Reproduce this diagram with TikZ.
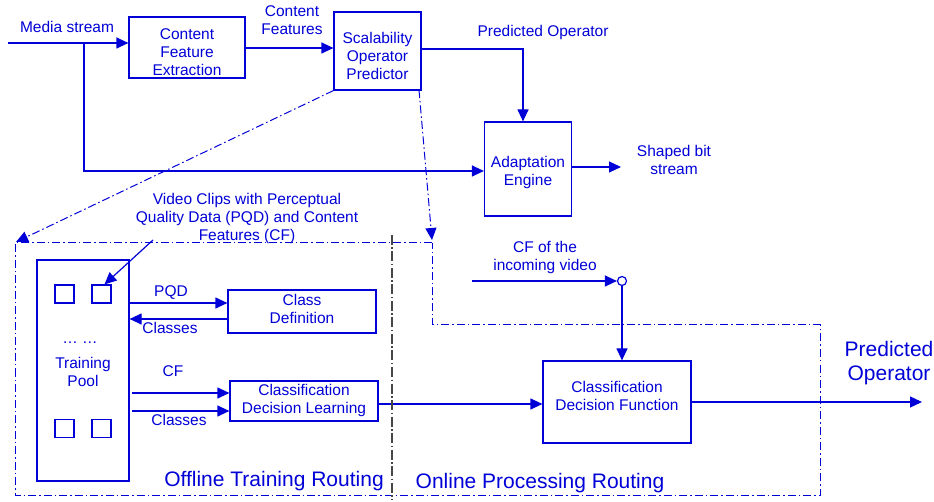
\documentclass[tikz,border=0pt]{standalone}
\usepackage{fontspec}
\setmainfont{Liberation Sans}
\usetikzlibrary{arrows.meta}
\definecolor{lb}{RGB}{0,0,215}
\definecolor{sepgray}{RGB}{70,70,70}
\begin{document}
\begin{tikzpicture}[x=1pt,y=-1pt,
  every node/.style={text=lb, font=\fontsize{15.5}{18}\selectfont, inner sep=0pt},
  box/.style={draw=lb, line width=1.2pt},
  conn/.style={draw=lb, line width=1.2pt},
  arr/.style={conn, -{Triangle[length=12pt,width=11pt]}},
  dd/.style={draw=lb, line width=1pt, dash pattern=on 8pt off 3pt on 1.5pt off 3pt},
  lbl/.style={align=center},
  big/.style={font=\fontsize{21}{24}\selectfont}
]
\useasboundingbox (0,0) rectangle (934,502);

% boxes
\node[box, minimum width=116pt, minimum height=61pt] (cfe) at (187,47.5) {};
\node[box, minimum width=87pt, minimum height=78pt] (sop) at (377.5,51) {};
\node[box, minimum width=87pt, minimum height=94pt] (ae) at (528,169) {};
\node[box, minimum width=92pt, minimum height=221pt] (pool) at (83,370.5) {};
\node[box, minimum width=148pt, minimum height=43pt] (cd) at (302,311.5) {};
\node[box, minimum width=148pt, minimum height=40pt] (cdl) at (304,401) {};
\node[box, minimum width=148pt, minimum height=82pt] (cdf) at (617,402) {};
\node[box, minimum width=19pt, minimum height=18pt] (sq1) at (64.5,294) {};
\node[box, minimum width=19pt, minimum height=18pt] (sq2) at (101.5,294) {};
\node[box, minimum width=19pt, minimum height=18pt] (sq3) at (64.5,428.5) {};
\node[box, minimum width=19pt, minimum height=18pt] (sq4) at (101.5,428.5) {};
\node[draw=lb, line width=1.2pt, circle, minimum size=9pt, fill=white] (junc) at (622,281) {};

% box texts
\node[lbl] (tcfe) at (187,52) {Content\\Feature\\Extraction};
\node[lbl] (tsop) at (377.5,56) {Scalability\\Operator\\Predictor};
\node[lbl] (tae) at (528,172) {Adaptation\\Engine};
\node[lbl] (tpool) at (83,371.5) {Training\\Pool};
\node[lbl] (tdots) at (80,343) {\dots\ \dots};
\node[lbl] (tcd) at (302,309) {Class\\Definition};
\node[lbl] (tcdl) at (304,400) {Classification\\Decision Learning};
\node[lbl] (tcdf) at (617,395.5) {Classification\\Decision Function};

% labels
\node[lbl] (lms) at (67,27) {Media stream};
\node[lbl] (lcf) at (292,20) {Content\\Features};
\node[lbl] (lpo) at (543,32) {Predicted Operator};
\node[lbl] (lsb) at (674,160) {Shaped bit\\stream};
\node[lbl] (lvc) at (247,218) {Video Clips with Perceptual\\Quality Data (PQD) and Content\\Features (CF)};
\node[lbl] (lpqd) at (171,293) {PQD};
\node[lbl] (lcl1) at (170,328) {Classes};
\node[lbl] (lcf2) at (173,371) {CF};
\node[lbl] (lcl2) at (179,420) {Classes};
\node[lbl] (linc) at (545,257) {CF of the\\incoming video};
\node[lbl, big] (loff) at (274,481) {Offline Training Routing};
\node[lbl, big] (lon) at (540,483) {Online Processing Routing};
\node[lbl, big] (lpo2) at (889,363) {Predicted\\Operator};

% coordinates
\coordinate (ms0) at (8,43);
\coordinate (br) at (84,43);
\coordinate (po) at (523,49);
\coordinate (sb) at (621,167);
\coordinate (offtip) at (16,242);
\coordinate (ontip) at (432,240);
\coordinate (vcs) at (153,240);
\coordinate (inc0) at (472,281);
\coordinate (out) at (922,402);

% connectors
\draw[arr] (ms0) -- (ms0 -| cfe.west);
\draw[arr] (br) -- (br |- 0,171) -- (ae.west |- 0,171);
\draw[arr] (cfe.east |- 0,48) -- (sop.west |- 0,48);
\draw[arr] (sop.east |- po) -- (po) -- (po |- ae.north);
\draw[arr] (ae.east |- sb) -- (sb);
\draw[arr] (vcs) -- ([xshift=3pt]sq2.north);
\draw[arr] (pool.east |- 0,303) -- (cd.west |- 0,303);
\draw[arr] (cd.west |- 0,319) -- (pool.east |- 0,319);
\draw[arr] (132,393) -- (cdl.west |- 0,393);
\draw[arr] (132,411) -- (cdl.west |- 0,411);
\draw[arr] (cdl.east |- 0,404) -- (cdf.west |- 0,404);
\draw[arr] (inc0) -- (junc.west);
\draw[arr] (junc.south) -- (cdf.north -| junc);
\draw[arr] (cdf.east |- out) -- (out);

% dash-dot
\draw[dd, -{Triangle[length=12pt,width=11pt]}] (sop.south west) -- (offtip);
\draw[dd, -{Triangle[length=12pt,width=11pt]}] (419,90) -- (ontip);
\draw[dd] (432,243) -- (15,243) -- (15,495) -- (820,495) -- (820,325) -- (432,325) -- cycle;
\draw[draw=sepgray, line width=1.2pt, dash pattern=on 10pt off 2.5pt on 1.5pt off 2.5pt] (392,235) -- (392,500);
\end{tikzpicture}
\end{document}
